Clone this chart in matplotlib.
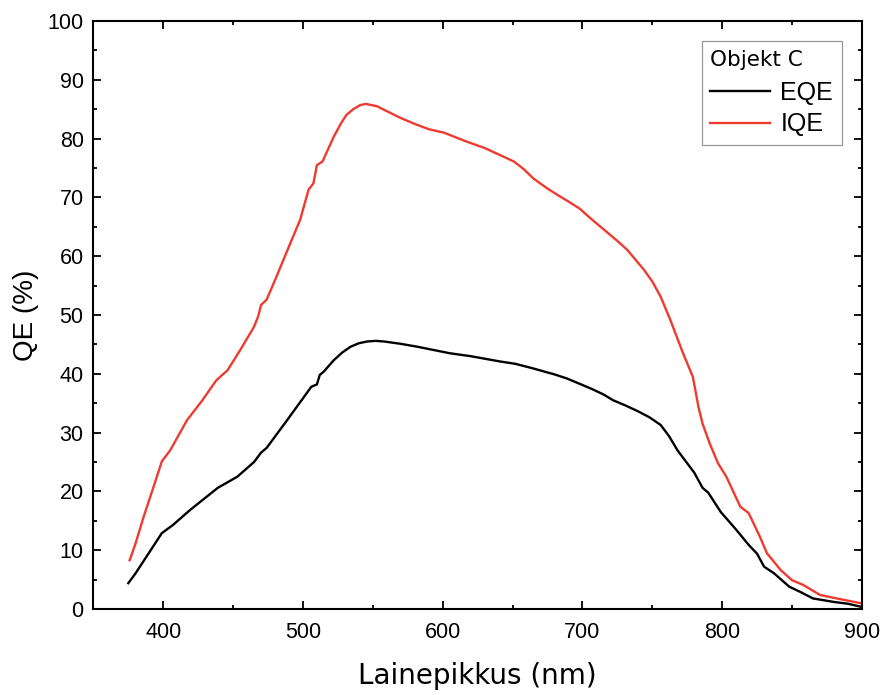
import matplotlib.pyplot as plt
from matplotlib.ticker import MultipleLocator

# EQE (black)
eqe_wl = [375, 380, 388, 399, 407, 419, 429, 439, 453, 465, 470, 474, 488, 499, 506,
          510, 512, 515, 522, 528, 534, 540, 546, 552, 558, 570, 582, 605, 620, 641,
          652, 665, 680, 689, 706, 715, 722, 731, 740, 748, 756, 762, 768, 780, 786,
          790, 799, 810, 819, 825, 830, 837, 848, 856, 865, 880, 890, 899]
eqe = [4.4, 6.0, 8.9, 12.9, 14.3, 16.8, 18.7, 20.6, 22.5, 25.0, 26.6, 27.4, 31.9, 35.5, 37.8,
       38.2, 39.8, 40.4, 42.3, 43.6, 44.6, 45.2, 45.5, 45.6, 45.5, 45.1, 44.6, 43.5, 43.0, 42.1,
       41.7, 40.9, 39.9, 39.2, 37.5, 36.5, 35.5, 34.6, 33.6, 32.6, 31.3, 29.4, 27.0, 23.2, 20.6,
       19.8, 16.5, 13.5, 10.9, 9.4, 7.2, 6.1, 3.8, 2.9, 1.8, 1.2, 0.9, 0.4]

# IQE (red)
iqe_wl = [376, 380, 386, 392, 399, 405, 417, 428, 438, 446, 455, 465, 468, 470,
          474, 481, 492, 498, 504, 507.5, 510, 514, 522, 527, 531, 536, 541, 545, 549,
          553, 558, 570, 580, 590, 601, 617, 630, 641, 651, 658, 665, 675, 683, 690,
          698, 705, 713, 725, 732, 744, 750, 756, 763, 772, 779, 781, 783, 786, 791,
          797, 803, 813, 819, 827, 832, 842, 850, 858, 870, 882, 899]
iqe = [8.3, 11.0, 15.7, 20.0, 25.1, 27.0, 32.1, 35.5, 38.9, 40.6, 44.0, 48.0, 49.8, 51.7,
       52.6, 56.5, 62.8, 66.2, 71.3, 72.4, 75.5, 76.1, 80.3, 82.5, 84.0, 85.0, 85.7, 85.9, 85.7,
       85.5, 84.9, 83.5, 82.5, 81.6, 81.0, 79.5, 78.4, 77.2, 76.1, 74.8, 73.2, 71.5, 70.3, 69.3,
       68.1, 66.6, 65.0, 62.6, 61.1, 57.7, 55.7, 53.1, 49.1, 43.5, 39.5, 37.0, 34.4, 31.5, 28.2,
       24.8, 22.5, 17.4, 16.3, 12.3, 9.5, 6.6, 4.9, 4.1, 2.4, 1.8, 1.0]

fig = plt.figure(figsize=(8.84, 6.95), dpi=100)
ax = fig.add_axes([0.1056, 0.1237, 0.8694, 0.8461])

ax.plot(eqe_wl, eqe, color='black', linewidth=1.7, solid_joinstyle='round', label='EQE')
ax.plot(iqe_wl, iqe, color='#ef3b2f', linewidth=1.7, solid_joinstyle='round', label='IQE')

ax.set_xlim(350, 900)
ax.set_ylim(0, 100)
ax.xaxis.set_major_locator(MultipleLocator(100))
ax.xaxis.set_minor_locator(MultipleLocator(50))
ax.yaxis.set_major_locator(MultipleLocator(10))
ax.yaxis.set_minor_locator(MultipleLocator(5))

for s in ax.spines.values():
    s.set_linewidth(1.5)
ax.tick_params(which='both', direction='in', top=True, right=True, width=1.3)
ax.tick_params(which='major', length=6)
ax.tick_params(which='minor', length=3)
ax.tick_params(axis='x', which='major', pad=9)
ax.tick_params(axis='y', which='major', pad=7)
for lab in ax.get_xticklabels() + ax.get_yticklabels():
    lab.set_family('Liberation Sans')
    lab.set_fontsize(15.5)

ax.set_xlabel('Lainepikkus (nm)', family='DejaVu Sans', fontsize=20, labelpad=14)
ax.set_ylabel('QE (%)', family='Liberation Sans', fontsize=20, labelpad=6)

leg = ax.legend(title='Objekt C', loc='upper right', fancybox=False, framealpha=1,
                edgecolor='#9a9a9a', handlelength=2.4, borderaxespad=0.8,
                prop={'family': 'Liberation Sans', 'size': 18},
                title_fontproperties={'family': 'DejaVu Sans', 'size': 15.5},
                alignment='left', labelspacing=0.3, handletextpad=0.4,
                borderpad=0.35)
leg.get_frame().set_linewidth(0.9)
leg._legend_box.sep = 8

plt.savefig('out.png', dpi=100)
